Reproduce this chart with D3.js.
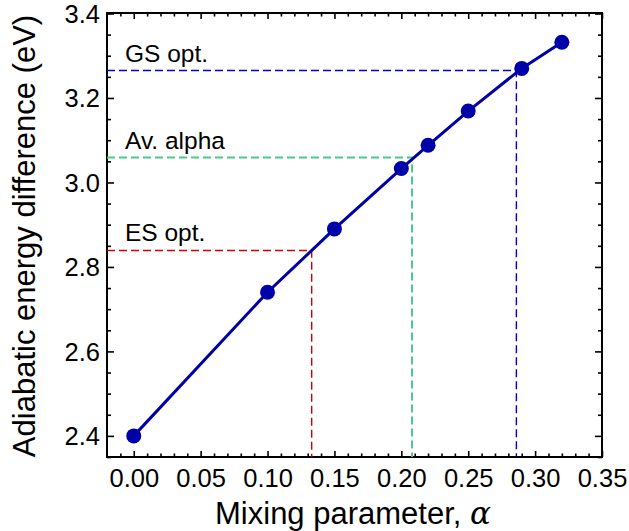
<!DOCTYPE html>
<html>
<head>
<meta charset="utf-8">
<script src="https://cdn.jsdelivr.net/npm/d3@7"></script>
<style>
  body { margin: 0; background: #fff; }
  svg { font-family: "Liberation Sans", Arial, sans-serif; }
</style>
</head>
<body>
<svg id="chart" width="629" height="531"></svg>
<script>
// data
const alphas = [0.00, 0.10, 0.15, 0.20, 0.22, 0.25, 0.29, 0.32]
const energies = [2.40, 2.74, 2.89, 3.033, 3.088, 3.169, 3.27, 3.332]

const guideNames = ['GS opt.', 'Av. alpha', 'ES opt.']
const guideAlphas = [0.286, 0.208, 0.133]
const guideEnergies = [3.265, 3.059, 2.839]
const guideColors = ['#0000c8', '#4cc98a', '#cc0000']

const xTicks = [0, 0.05, 0.10, 0.15, 0.20, 0.25, 0.30, 0.35]
const yTicks = [2.4, 2.6, 2.8, 3.0, 3.2, 3.4]

const margin = { left: 107, right: 27, top: 13, bottom: 74 }
const W = 629, H = 531
const svg = d3.select('#chart')

const x = d3.scaleLinear().domain([-0.02, 0.35]).range([margin.left, W - margin.right])
const y = d3.scaleLinear().domain([2.35, 3.4]).range([H - margin.bottom, margin.top + 0.5])

const xMinor = d3.range(-0.01, 0.351, 0.01).filter(v => Math.abs(Math.round(v * 20) - v * 20) > 1e-6)
const yMinor = d3.range(2.35, 3.40, 0.05).filter(v => Math.abs(Math.round(v * 5) - v * 5) > 1e-6)

const blank = () => ''

// ticks on all four sides, pointing inward
function addAxis(axis, tf, minorVals, majorVals, majLen, minLen, labels) {
    const g = svg.append('g').attr('transform', tf)
    g.call(axis.tickValues(minorVals).tickSize(minLen).tickFormat(blank))
    const g2 = svg.append('g').attr('transform', tf)
    g2.call(axis.tickValues(majorVals).tickSize(majLen).tickFormat(labels ? labels : blank))
    ;[g, g2].forEach(s => {
        s.attr('font-family', null).attr('font-size', null)
        s.select('.domain').remove()
        s.selectAll('line').attr('stroke', '#000').attr('stroke-width', 1.6)
    })
    return g2
}

const fmtX = d3.format('.2f'), fmtY = d3.format('.1f')
const bottom = addAxis(d3.axisBottom(x), `translate(0,${H - margin.bottom})`, xMinor, xTicks, -6, -3.5, fmtX)
bottom.selectAll('text').attr('font-size', 25.5).attr('fill', '#000').attr('dy', null).attr('y', 30)
addAxis(d3.axisTop(x), `translate(0,${margin.top})`, xMinor, xTicks, -6, -3.5)
const left = addAxis(d3.axisLeft(y), `translate(${margin.left},0)`, yMinor, yTicks, -7, -4, fmtY)
left.selectAll('text').attr('font-size', 25.5).attr('fill', '#000').attr('x', -7).attr('dy', '0.34em')
addAxis(d3.axisRight(y), `translate(${W - margin.right},0)`, yMinor, yTicks, -7, -4)

// frame
svg.append('rect')
    .attr('x', margin.left).attr('y', margin.top)
    .attr('width', W - margin.left - margin.right)
    .attr('height', H - margin.top - margin.bottom)
    .attr('fill', 'none').attr('stroke', '#000').attr('stroke-width', 2)

// guide lines
guideNames.forEach((name, i) => {
    const px = x(guideAlphas[i]), py = y(guideEnergies[i])
    svg.append('path')
        .attr('d', `M${x.range()[0]},${py}H${px}V${y.range()[0]}`)
        .attr('fill', 'none')
        .attr('stroke', guideColors[i])
        .attr('stroke-width', i === 1 ? 2 : 1.4)
        .attr('stroke-dasharray', '8,4')
    svg.append('text')
        .attr('x', 125).attr('y', py - 9)
        .attr('font-size', 24.5)
        .text(name)
})

const pts = alphas.map((a, i) => [a, energies[i]])
svg.append('path')
    .datum(pts)
    .attr('d', d3.line().x(d => x(d[0])).y(d => y(d[1])))
    .attr('fill', 'none')
    .attr('stroke', '#0000a8')
    .attr('stroke-width', 3)

svg.selectAll('circle.pt').data(pts).enter().append('circle')
    .attr('class', 'pt')
    .attr('cx', d => x(d[0])).attr('cy', d => y(d[1]))
    .attr('r', 7.5)
    .attr('fill', '#0000a8')

// axis titles
svg.append('text')
    .attr('x', 353).attr('y', 524)
    .attr('text-anchor', 'middle')
    .attr('font-size', 31)
    .html('Mixing parameter, <tspan font-family="DejaVu Serif" font-style="italic">α</tspan>')

svg.append('text')
    .attr('transform', 'translate(35,236) rotate(-90)')
    .attr('text-anchor', 'middle')
    .attr('font-size', 31)
    .text('Adiabatic energy difference (eV)')
</script>
</body>
</html>
